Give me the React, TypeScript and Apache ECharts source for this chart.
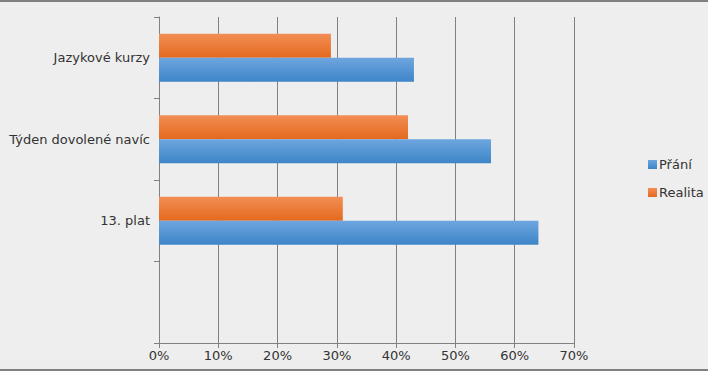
import React, { useEffect, useRef } from "react";
import * as echarts from "echarts";

const categories = ["", "13. plat", "Týden dovolené navíc", "Jazykové kurzy"];
const seriesNames = ["Přání", "Realita"];
const prani = [null, 0.64, 0.56, 0.43];
const realita = [null, 0.31, 0.42, 0.29];

export default function App() {
  const ref = useRef<HTMLDivElement>(null);
  useEffect(() => {
    const chart = echarts.init(ref.current!, null, { renderer: "svg" });
    const font = "DejaVu Sans";
    const blue = new echarts.graphic.LinearGradient(0, 0, 0, 1, [
      { offset: 0, color: "#6ea6df" },
      { offset: 1, color: "#3d85c8" },
    ]);
    const orange = new echarts.graphic.LinearGradient(0, 0, 0, 1, [
      { offset: 0, color: "#f28e55" },
      { offset: 1, color: "#e4691d" },
    ]);
    chart.setOption({
      animation: false,
      backgroundColor: "#eeeeee",
      textStyle: { fontFamily: font },
      graphic: [
        { type: "rect", shape: { x: 0, y: 0, width: 708, height: 2 }, style: { fill: "#808080" } },
        { type: "rect", shape: { x: 0, y: 369, width: 708, height: 2 }, style: { fill: "#808080" } },
      ],
      grid: { left: 159, right: 134, top: 17, bottom: 28, containLabel: false },
      legend: {
        orient: "vertical",
        left: 643,
        top: 153,
        itemWidth: 9,
        itemHeight: 9,
        itemGap: 15,
        icon: "rect",
        textStyle: { fontFamily: font, fontSize: 13, color: "#333", padding: [0, 0, 0, -3] },
        data: seriesNames,
      },
      xAxis: {
        type: "value",
        min: 0,
        max: 0.7,
        interval: 0.1,
        axisLine: { show: true, lineStyle: { color: "#808080", width: 1 } },
        axisTick: { show: true, length: 5, lineStyle: { color: "#808080" } },
        splitLine: { show: true, lineStyle: { color: "#808080", width: 1 } },
        axisLabel: {
          fontFamily: font,
          fontSize: 13,
          color: "#333",
          margin: 6,
          formatter: (v: number) => Math.round(v * 100) + "%",
        },
      },
      yAxis: {
        type: "category",
        data: categories,
        axisLine: { show: true, lineStyle: { color: "#808080", width: 1 } },
        axisTick: { show: true, length: 5, lineStyle: { color: "#808080" } },
        splitLine: { show: false },
        axisLabel: { fontFamily: font, fontSize: 13, color: "#333", margin: 9 },
      },
      series: [
        {
          name: "Realita",
          type: "bar",
          data: realita,
          barWidth: 24,
          barGap: "0%",
          itemStyle: { color: orange },
        },
        {
          name: "Přání",
          type: "bar",
          data: prani,
          barWidth: 24,
          barGap: "0%",
          itemStyle: { color: blue },
        },
      ],
    });
    return () => chart.dispose();
  }, []);
  return (
    <div
      ref={ref}
      style={{ position: "fixed", left: 0, top: 0, width: 708, height: 371 }}
    />
  );
}
